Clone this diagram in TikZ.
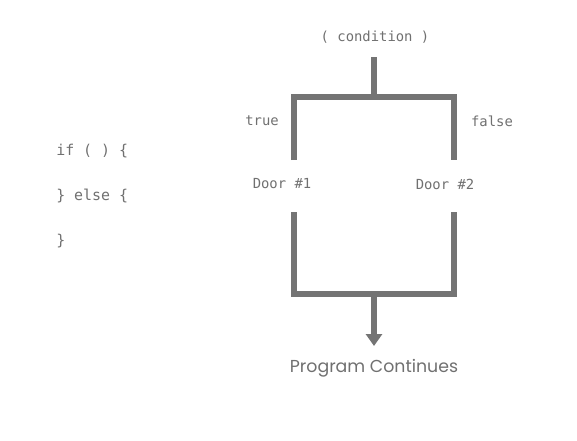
\documentclass[tikz,border=0pt]{standalone}
\usepackage{fontspec}
\setmainfont{Poppins}
\setmonofont{DejaVu Sans Mono}
\usetikzlibrary{arrows.meta}
\definecolor{bargray}{HTML}{747474}
\definecolor{txtgray}{HTML}{707070}

\begin{document}
\begin{tikzpicture}[x=0.75pt,y=-0.75pt,
		bar/.style={line width=3.9pt,bargray,line join=miter},
		lbl/.style={font=\ttfamily\fontsize{10.4}{12}\selectfont,text=txtgray,inner sep=0pt},
		code/.style={font=\ttfamily\fontsize{11.2}{13}\selectfont,text=txtgray,inner sep=0pt,anchor=west}]
		\useasboundingbox (0,0) rectangle (577,440);

		% code on the left
		\node [code] (ifline) at (56,151) {if ( ) \{};
		\node [code] (elseline) at (56,196) {\} else \{};
		\node [code] (endline) at (56,241) {\}};

		% labels
		\node [lbl] (cond) at (375,37) {( condition )};
		\node [lbl] (true) at (262,121) {true};
		\node [lbl] (false) at (492,121) {false};
		\node [lbl] (door1) at (282,184) {Door \#1};
		\node [lbl] (door2) at (445,184) {Door \#2};
		\node [font=\fontsize{13}{15}\selectfont,text=txtgray,inner sep=0pt] (cont) at (374,368) {Program Continues};

		% fork
		\coordinate (top) at (374,57);
		\coordinate (fork) at (374,97);
		\coordinate (tl) at (294,97);
		\coordinate (tr) at (454,97);
		\coordinate (tlend) at (294,160);
		\coordinate (trend) at (454,160);
		\draw [bar] (top) to (fork);
		\draw [bar] (tlend) -- (tl) -- (tr) -- (trend);

		% join
		\coordinate (bl) at (294,212);
		\coordinate (br) at (454,212);
		\coordinate (jl) at (294,294);
		\coordinate (jr) at (454,294);
		\coordinate (join) at (374,294);
		\coordinate (tip) at (374,346);
		\draw [bar] (bl) -- (jl) -- (jr) -- (br);
		\draw [bar,-{Triangle[width=12pt,length=9pt]}] (join) to (tip);
\end{tikzpicture}
\end{document}
